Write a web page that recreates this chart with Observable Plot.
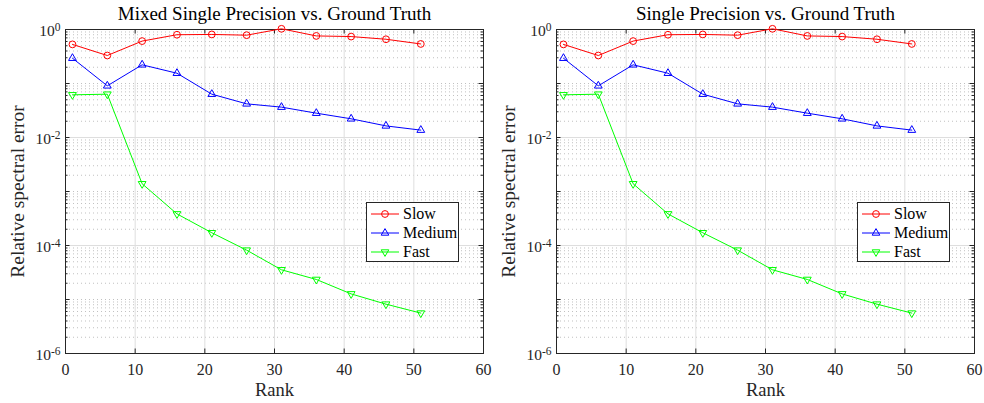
<!DOCTYPE html>
<html><head><meta charset="utf-8">
<script src="https://cdn.jsdelivr.net/npm/d3@7"></script>
<script src="https://cdn.jsdelivr.net/npm/@observablehq/plot@0.6"></script>
<style>
body{margin:0;background:#fff;}
#wrap{position:relative;width:984px;height:403px;overflow:hidden;}
.panel{position:absolute;top:0;}
.panel svg text{font-family:"Liberation Serif",serif;}
.legend{position:absolute;box-sizing:border-box;border:1px solid #262626;background:#fff;font-family:"Liberation Serif",serif;font-size:16px;color:#000;}
.legend .row{position:absolute;left:0;height:18px;display:flex;align-items:center;}
.legend svg{display:block;}
</style>
</head><body><div id="wrap"></div>
<script>
// ---- data ----
const ranks = [1, 6, 11, 16, 21, 26, 31, 36, 41, 46, 51];
const slowMixed   = [0.53, 0.33, 0.61, 0.80, 0.81, 0.785, 1.03, 0.76, 0.74, 0.66, 0.54];
const mediumMixed = [0.294, 0.0906, 0.222, 0.155, 0.0634, 0.042, 0.0365, 0.0282, 0.0222, 0.0164, 0.0137];
const fastMixed   = [0.0617, 0.0634, 0.00139, 3.85e-4, 1.72e-4, 8.2e-5, 3.55e-5, 2.35e-5, 1.27e-5, 8.2e-6, 5.6e-6];
const slowSingle   = [0.53, 0.33, 0.61, 0.80, 0.81, 0.785, 1.03, 0.76, 0.74, 0.66, 0.54];
const mediumSingle = [0.294, 0.0906, 0.222, 0.155, 0.0634, 0.042, 0.0365, 0.0282, 0.0222, 0.0164, 0.0137];
const fastSingle   = [0.0617, 0.0634, 0.00139, 3.85e-4, 1.72e-4, 8.2e-5, 3.55e-5, 2.35e-5, 1.27e-5, 8.2e-6, 5.6e-6];
const seriesNames = ["Slow", "Medium", "Fast"];
const xTicks = [0, 10, 20, 30, 40, 50, 60];
const yTickExps = [0, -2, -4, -6];
const titles = ["Mixed Single Precision vs. Ground Truth", "Single Precision vs. Ground Truth"];
const xLabel = "Rank";
const yLabel = "Relative spectral error";

const colors = {Slow: "#ff0000", Medium: "#0000ff", Fast: "#00ff00"};
const FONT = "Liberation Serif";
const AX = "#262626";

const downTriangle = {
  draw(context, size) {
    const y = Math.sqrt(size / (3 * Math.sqrt(3)));
    const s3 = Math.sqrt(3);
    context.moveTo(0, 2 * y);
    context.lineTo(-s3 * y, -y);
    context.lineTo(s3 * y, -y);
    context.closePath();
  }
};

function makePanel(title, ml, mr, S, M, F) {
  const W = 492, H = 403, mt = 29, mb = 50;
  const pw = W - ml - mr, ph = H - mt - mb;
  const perDecade = ph / 6;
  const toObj = (arr) => ranks.map((r, i) => ({x: r, y: arr[i]}));
  const dS = toObj(S), dM = toObj(M), dF = toObj(F);
  const minor = [];
  for (let e = -6; e < 0; e++) for (let k = 2; k <= 9; k++) minor.push(k * 10 ** e);
  const oddDec = [1e-5, 1e-3, 1e-1];
  const majorY = yTickExps.map(e => 10 ** e);
  const gridX = xTicks.slice(1, -1);
  const gridY = majorY.filter(v => v > 1e-6 && v < 1);
  const xMaj = 60 * 4.5 / pw, xMin = 60 * 2.5 / pw;
  const yTickF = 10 ** (4.5 / perDecade);
  const allY = majorY.concat(oddDec);
  const svg = Plot.plot({
    width: W, height: H,
    marginLeft: ml, marginRight: mr, marginTop: mt, marginBottom: mb,
    x: {domain: [0, 60], axis: null},
    y: {type: "log", domain: [1e-6, 1], axis: null},
    style: {fontFamily: FONT, color: AX, background: "#fff"},
    marks: [
      Plot.ruleY(minor.concat(oddDec), {y: d => d, stroke: "#c0c0c0", strokeDasharray: "1,3", strokeWidth: 1}),
      Plot.ruleX(gridX, {x: d => d, stroke: "#dedede", strokeWidth: 1}),
      Plot.ruleY(gridY, {y: d => d, stroke: "#dedede", strokeWidth: 1}),
      // ticks
      Plot.ruleY(allY, {y: d => d, x1: 0, x2: xMaj, stroke: AX}),
      Plot.ruleY(allY, {y: d => d, x1: 60 - xMaj, x2: 60, stroke: AX}),
      Plot.ruleY(minor, {y: d => d, x1: 0, x2: xMin, stroke: AX}),
      Plot.ruleY(minor, {y: d => d, x1: 60 - xMin, x2: 60, stroke: AX}),
      Plot.ruleX(xTicks, {x: d => d, y1: 1e-6, y2: 1e-6 * yTickF, stroke: AX}),
      Plot.ruleX(xTicks, {x: d => d, y1: 1 / yTickF, y2: 1, stroke: AX}),
      Plot.frame({stroke: AX, strokeWidth: 1}),
      // data
      Plot.line(dS, {x: "x", y: "y", stroke: colors.Slow, strokeWidth: 1}),
      Plot.line(dM, {x: "x", y: "y", stroke: colors.Medium, strokeWidth: 1}),
      Plot.line(dF, {x: "x", y: "y", stroke: colors.Fast, strokeWidth: 1}),
      Plot.dot(dS, {x: "x", y: "y", symbol: "circle", r: 3.4, stroke: colors.Slow, fill: "none", strokeWidth: 1}),
      Plot.dot(dM, {x: "x", y: "y", symbol: "triangle", r: 2.9, stroke: colors.Medium, fill: "none", strokeWidth: 1}),
      Plot.dot(dF, {x: "x", y: "y", symbol: downTriangle, r: 2.9, stroke: colors.Fast, fill: "none", strokeWidth: 1}),
      // tick labels
      Plot.text(xTicks, {x: d => d, frameAnchor: "bottom", lineAnchor: "middle", dy: 16, text: d => String(d), fontSize: 16, fontFamily: FONT, fill: AX}),
      Plot.text(yTickExps, {y: d => 10 ** d, frameAnchor: "left", lineAnchor: "middle", dx: -5, dy: 2, textAnchor: "end", text: d => "10^" + d, fontSize: 15.5, fontFamily: FONT, fill: AX}),
      // labels
      Plot.text([xLabel], {frameAnchor: "bottom", lineAnchor: "middle", dy: 37, text: d => d, fontSize: 18.5, fontFamily: FONT, fill: AX}),
      Plot.text([yLabel], {x: () => 0, y: () => 1e-3, lineAnchor: "middle", dx: -48, rotate: -90, text: d => d, fontSize: 19.4, fontFamily: FONT, fill: AX}),
      Plot.text([title], {frameAnchor: "top", lineAnchor: "middle", dy: -16, text: d => d, fontSize: 19, fontFamily: FONT, fill: "#000"})
    ]
  });
  // superscript exponents on y tick labels
  d3.select(svg).selectAll("text").each(function() {
    const t = this.textContent;
    const m = /^10\^(-?\d+)$/.exec(t);
    if (m) {
      const sel = d3.select(this);
      sel.text("10");
      sel.append("tspan").attr("dy", "-0.45em").attr("font-size", "11.5px").text(m[1]);
    }
  });
  return svg;
}

function legend(left, top) {
  const div = document.createElement("div");
  div.className = "legend";
  div.style.left = left + "px"; div.style.top = top + "px";
  div.style.width = "93px"; div.style.height = "60px";
  const rowsY = [11, 30, 49];
  seriesNames.forEach((name, i) => {
    const row = document.createElement("div");
    row.className = "row";
    row.style.top = (rowsY[i] - 9) + "px";
    const c = colors[name];
    let marker;
    if (name === "Slow") marker = `<circle cx="18" cy="9" r="3.4" fill="none" stroke="${c}"/>`;
    else if (name === "Medium") marker = `<path d="M18,4.6L21.8,11.2L14.2,11.2Z" fill="none" stroke="${c}"/>`;
    else marker = `<path d="M18,13.4L21.8,6.8L14.2,6.8Z" fill="none" stroke="${c}"/>`;
    row.innerHTML = `<svg width="34" height="18"><line x1="4" x2="32" y1="9" y2="9" stroke="${c}" stroke-width="1"/>${marker}</svg><span style="margin-left:2px">${name}</span>`;
    div.appendChild(row);
  });
  return div;
}

const wrap = document.getElementById("wrap");
const p1 = document.createElement("div"); p1.className = "panel"; p1.style.left = "0px";
p1.appendChild(makePanel(titles[0], 65, 9, slowMixed, mediumMixed, fastMixed));
const p2 = document.createElement("div"); p2.className = "panel"; p2.style.left = "492px";
p2.appendChild(makePanel(titles[1], 64, 10, slowSingle, mediumSingle, fastSingle));
wrap.appendChild(p1); wrap.appendChild(p2);
wrap.appendChild(legend(366, 202));
wrap.appendChild(legend(857, 202));
</script></body></html>
